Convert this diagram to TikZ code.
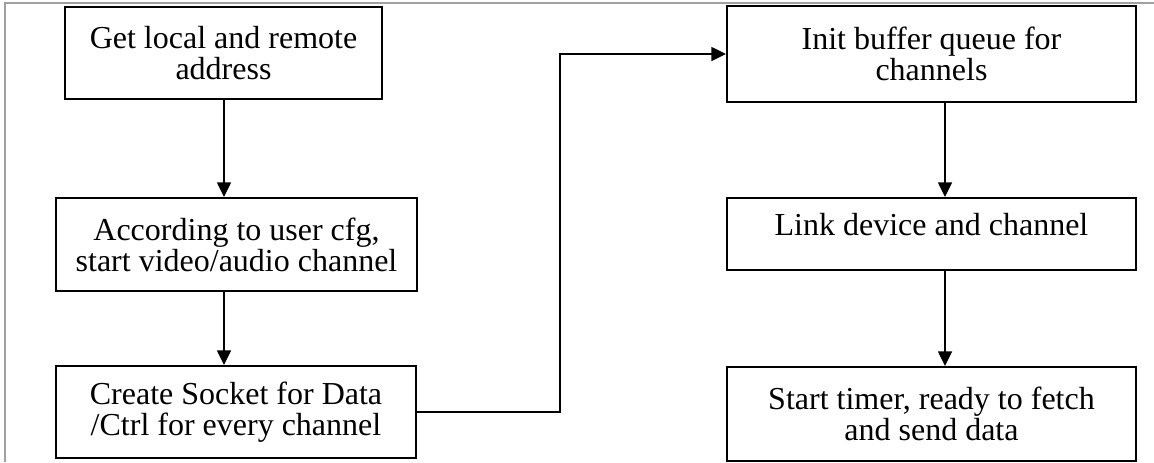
\documentclass[tikz,border=0pt]{standalone}
\usepackage{fontspec}
\setmainfont{Liberation Serif}
\usepackage{tikz}
\usetikzlibrary{positioning,calc,arrows.meta}
\definecolor{FrameGray}{RGB}{160,160,160}

\begin{document}
\begin{tikzpicture}[x=0.75pt,y=-0.75pt]
	\tikzset{
		stepbox/.style={rectangle, draw=black, line width=1.5pt, fill=white,
			align=center, inner sep=0pt, font=\fontsize{24}{23.3}\selectfont},
		flow/.style={draw=black, line width=1.1pt, -{Triangle[length=11pt,width=10.5pt]}},
		frame/.style={draw=FrameGray, line width=1.5pt}
	}
	\useasboundingbox (0,0) rectangle (1154,462);
	\draw[frame] (5,462) -- (5,3) -- (1154,3);
	
	\node[stepbox, minimum width=237.75pt, minimum height=69pt] (n1) at (223.5,53) {Get local and remote\\address};
	\node[stepbox, minimum width=270.75pt, minimum height=69.75pt] (n2) at (236.5,244.5) {According to user cfg,\\start video/audio channel};
	\node[stepbox, minimum width=270pt, minimum height=69pt] (n3) at (236,412) {Create Socket for Data\\/Ctrl for every channel};
	\node[stepbox, minimum width=306.75pt, minimum height=72pt] (n4) at (931.5,54) {Init buffer queue for\\channels};
	\node[stepbox, minimum width=306.75pt, minimum height=54pt, text depth=14pt] (n5) at (931.5,234) {Link device and channel};
	\node[stepbox, minimum width=306.75pt, minimum height=70.5pt] (n6) at (931.5,414) {Start timer, ready to fetch\\and send data};
	
	\coordinate (lc) at (224,0);
	\coordinate (rc) at (945,0);
	\coordinate (mid) at (560,0);
	
	\draw[flow] (lc |- n1.south) -- (lc |- n2.north);
	\draw[flow] (lc |- n2.south) -- (lc |- n3.north);
	\draw[flow] (n3.east) -- (n3.east -| mid) |- (n4.west);
	\draw[flow] (rc |- n4.south) -- (rc |- n5.north);
	\draw[flow] (rc |- n5.south) -- (rc |- n6.north);
\end{tikzpicture}
\end{document}
